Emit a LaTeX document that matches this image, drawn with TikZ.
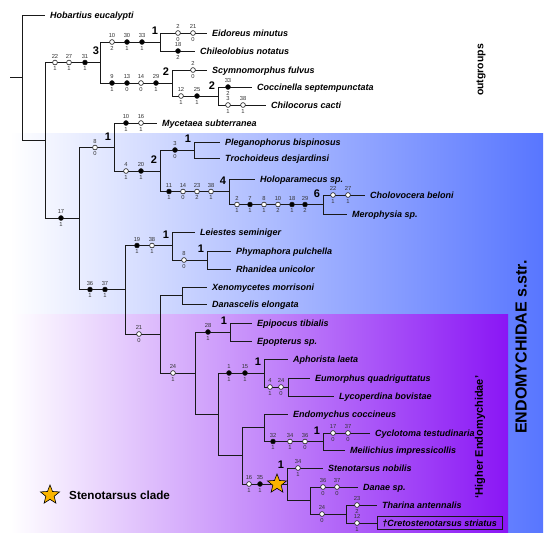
\documentclass[tikz,border=0pt]{standalone}
\usepackage{fontspec}
\setmainfont{Liberation Sans}
\usetikzlibrary{shapes.geometric}
\definecolor{bluR}{RGB}{88,118,255}
\definecolor{purR}{RGB}{138,22,245}
\definecolor{lineC}{RGB}{25,25,25}
\definecolor{starC}{RGB}{250,180,0}
\newcommand\mych[6]{%
  \node[#6] (#1) at (#2,#3) {};
  \node[chl] (#1t) at (#2,#3-6.3) {#4};
  \node[chl] (#1b) at (#2,#3+6.3) {#5};}
\tikzset{
  br/.style={draw=lineC,line width=0.9pt},
  op/.style={circle,draw=lineC,fill=white,line width=0.6pt,minimum size=4.8pt,inner sep=0pt},
  cl/.style={op,fill=black},
  chl/.style={font=\fontsize{5.8}{6}\selectfont,inner sep=0pt,text=black!80},
  leaf/.style={anchor=west,inner xsep=5pt,inner ysep=0pt,text height=6.5pt,text depth=0pt,font=\fontsize{9}{10}\selectfont\bfseries\itshape},
  clab/.style={font=\fontsize{11}{11}\selectfont\bfseries,inner sep=0pt},
  starS/.style={star,star points=5,star point ratio=2.3,minimum size=20pt,inner sep=0pt,fill=starC,draw=black,line width=0.6pt},
  vlab/.style={rotate=90,inner sep=0pt,font=\bfseries}
}
\begin{document}
\begin{tikzpicture}[x=1pt,y=-1pt]
\useasboundingbox (0,0) rectangle (550,541);
\fill[white] (0,0) rectangle (550,541);
% backgrounds
\shade[left color=white,right color=bluR] (10,133) rectangle (543,532);
\shade[left color=white,right color=purR] (10,314) rectangle (508,532);
% internal coordinates
\coordinate (root) at (10,77);
\coordinate (R) at (22,77);
\coordinate (A) at (45,140);
\coordinate (O) at (100,62.5);
\coordinate (O1) at (160,42);
\coordinate (O2) at (172,83);
\coordinate (O3) at (218,96);
\coordinate (B) at (79,218);
\coordinate (C) at (114,147.5);
\coordinate (D) at (160,171);
\coordinate (E) at (194,150);
\coordinate (F) at (229,191.5);
\coordinate (G) at (323,204.5);
\coordinate (H) at (125,289.5);
\coordinate (I) at (172,245.5);
\coordinate (J) at (207,260);
\coordinate (K) at (160,334);
\coordinate (L) at (182,295.5);
\coordinate (M) at (195,373);
\coordinate (N) at (230,332);
\coordinate (P) at (218,414.5);
\coordinate (Q) at (264,373);
\coordinate (S) at (288,387);
\coordinate (T) at (242,455.5);
\coordinate (U) at (264,427.5);
\coordinate (V) at (323,441.5);
\coordinate (W) at (287,484);
\coordinate (X) at (310,500);
\coordinate (Y) at (346,514);
% leaves
\node[leaf] (hob) at (45,15) {Hobartius eucalypti};
\node[leaf] (eid) at (207,33) {Eidoreus minutus};
\node[leaf] (chil) at (195,51) {Chileolobius notatus};
\node[leaf] (scy) at (207,70) {Scymnomorphus fulvus};
\node[leaf] (coc) at (252,87) {Coccinella septempunctata};
\node[leaf] (chc) at (266,105) {Chilocorus cacti};
\node[leaf] (myc) at (157,123) {Mycetaea subterranea};
\node[leaf] (ple) at (220,142) {Pleganophorus bispinosus};
\node[leaf] (tro) at (220,158) {Trochoideus desjardinsi};
\node[leaf] (hol) at (255,179) {Holoparamecus sp.};
\node[leaf] (cho) at (365,195) {Cholovocera beloni};
\node[leaf] (mer) at (347,214) {Merophysia sp.};
\node[leaf] (lei) at (195,232) {Leiestes seminiger};
\node[leaf] (phy) at (231,251) {Phymaphora pulchella};
\node[leaf] (rha) at (231,269) {Rhanidea unicolor};
\node[leaf] (xen) at (207,287) {Xenomycetes morrisoni};
\node[leaf] (dan) at (207,304) {Danascelis elongata};
\node[leaf] (epi) at (252,323) {Epipocus tibialis};
\node[leaf] (epo) at (252,341) {Epopterus sp.};
\node[leaf] (aph) at (288,359) {Aphorista laeta};
\node[leaf] (eum) at (310,378) {Eumorphus quadriguttatus};
\node[leaf] (lyc) at (334,396) {Lycoperdina bovistae};
\node[leaf] (endc) at (288,414) {Endomychus coccineus};
\node[leaf] (cyc) at (370,433) {Cyclotoma testudinaria};
\node[leaf] (mei) at (345,450) {Meilichius impressicollis};
\node[leaf] (ste) at (323,468) {Stenotarsus nobilis};
\node[leaf] (dae) at (358,487) {Danae sp.};
\node[leaf] (tha) at (377,505) {Tharina antennalis};
\node[leaf,draw=lineC,line width=0.6pt,inner ysep=3.25pt] (cre) at (377,523) {†Cretostenotarsus striatus};
% branches
\draw[br] (root) -- (R);
\draw[br] (R) |- (hob.west);
\draw[br] (R) |- (A);
\draw[br] (A) |- (O);
\draw[br] (A) |- (B);
\draw[br] (O) |- (O1);
\draw[br] (O) |- (O2);
\draw[br] (O1) |- (eid.west);
\draw[br] (O1) |- (chil.west);
\draw[br] (O2) |- (scy.west);
\draw[br] (O2) |- (O3);
\draw[br] (O3) |- (coc.west);
\draw[br] (O3) |- (chc.west);
\draw[br] (B) |- (C);
\draw[br] (B) |- (H);
\draw[br] (C) |- (myc.west);
\draw[br] (C) |- (D);
\draw[br] (D) |- (E);
\draw[br] (D) |- (F);
\draw[br] (E) |- (ple.west);
\draw[br] (E) |- (tro.west);
\draw[br] (F) |- (hol.west);
\draw[br] (F) |- (G);
\draw[br] (G) |- (cho.west);
\draw[br] (G) |- (mer.west);
\draw[br] (H) |- (I);
\draw[br] (H) |- (K);
\draw[br] (I) |- (lei.west);
\draw[br] (I) |- (J);
\draw[br] (J) |- (phy.west);
\draw[br] (J) |- (rha.west);
\draw[br] (K) |- (L);
\draw[br] (K) |- (M);
\draw[br] (L) |- (xen.west);
\draw[br] (L) |- (dan.west);
\draw[br] (M) |- (N);
\draw[br] (M) |- (P);
\draw[br] (N) |- (epi.west);
\draw[br] (N) |- (epo.west);
\draw[br] (P) |- (Q);
\draw[br] (P) |- (T);
\draw[br] (Q) |- (aph.west);
\draw[br] (Q) |- (S);
\draw[br] (S) |- (eum.west);
\draw[br] (S) |- (lyc.west);
\draw[br] (T) |- (U);
\draw[br] (T) |- (W);
\draw[br] (U) |- (endc.west);
\draw[br] (U) |- (V);
\draw[br] (V) |- (cyc.west);
\draw[br] (V) |- (mei.west);
\draw[br] (W) |- (ste.west);
\draw[br] (W) |- (X);
\draw[br] (X) |- (dae.west);
\draw[br] (X) |- (Y);
\draw[br] (Y) |- (tha.west);
\draw[br] (Y) |- (cre.west);
% character states
\mych{a1}{55}{62.5}{22}{1}{op}
\mych{a2}{69}{62.5}{27}{1}{op}
\mych{a3}{85}{62.5}{31}{1}{cl}
\mych{b1}{112}{42}{10}{2}{op}
\mych{b2}{127}{42}{30}{1}{cl}
\mych{b3}{142}{42}{33}{1}{cl}
\mych{c1}{178}{33}{2}{0}{op}
\mych{c2}{193}{33}{21}{0}{op}
\mych{d1}{178}{51}{18}{2}{cl}
\mych{e1}{112}{83}{9}{1}{cl}
\mych{e2}{127}{83}{13}{0}{cl}
\mych{e3}{141}{83}{14}{0}{op}
\mych{e4}{156}{83}{29}{1}{cl}
\mych{f1}{193}{70}{2}{0}{op}
\mych{g1}{181}{96}{12}{1}{op}
\mych{g2}{197}{96}{25}{1}{cl}
\mych{h1}{228}{87}{33}{2}{cl}
\mych{i1}{228}{105}{3}{1}{op}
\mych{i2}{243}{105}{38}{1}{op}
\mych{j1}{126}{123}{10}{1}{cl}
\mych{j2}{141}{123}{16}{1}{op}
\mych{k1}{95}{147.5}{8}{0}{op}
\mych{l1}{126}{171}{4}{1}{op}
\mych{l2}{141}{171}{20}{1}{cl}
\mych{m1}{175}{150}{3}{0}{cl}
\mych{n1}{169}{191.5}{11}{1}{cl}
\mych{n2}{183}{191.5}{14}{0}{op}
\mych{n3}{197}{191.5}{23}{2}{op}
\mych{n4}{211}{191.5}{38}{1}{op}
\mych{o1}{237}{204.5}{2}{1}{op}
\mych{o2}{250}{204.5}{7}{1}{cl}
\mych{o3}{264}{204.5}{8}{1}{op}
\mych{o4}{278}{204.5}{10}{2}{op}
\mych{o5}{292}{204.5}{18}{1}{cl}
\mych{o6}{305}{204.5}{29}{2}{cl}
\mych{p1}{333}{195}{22}{1}{op}
\mych{p2}{348}{195}{27}{1}{op}
\mych{q1}{61}{218}{17}{1}{cl}
\mych{r1}{90}{289.5}{36}{1}{cl}
\mych{r2}{105}{289.5}{37}{1}{cl}
\mych{s1}{137}{245.5}{19}{1}{cl}
\mych{s2}{152}{245.5}{38}{1}{op}
\mych{t1}{184}{260}{8}{0}{op}
\mych{u1}{139}{334}{21}{0}{op}
\mych{v1}{173}{373}{24}{1}{op}
\mych{w1}{208}{332}{28}{1}{cl}
\mych{x1}{229}{373}{1}{1}{cl}
\mych{x2}{245}{373}{15}{1}{cl}
\mych{y1}{270}{387}{4}{1}{op}
\mych{y2}{281}{387}{24}{0}{op}
\mych{z1}{273}{441.5}{32}{1}{cl}
\mych{z2}{290}{441.5}{34}{1}{op}
\mych{z3}{305}{441.5}{36}{0}{op}
\mych{aa1}{333}{433}{17}{0}{op}
\mych{aa2}{348}{433}{37}{0}{op}
\mych{ab1}{249}{484}{16}{1}{op}
\mych{ab2}{260}{484}{35}{1}{cl}
\mych{ac1}{298}{468}{34}{1}{op}
\mych{ad1}{323}{487}{36}{0}{op}
\mych{ad2}{337}{487}{37}{0}{op}
\mych{ae1}{322}{514}{24}{0}{op}
\mych{af1}{357}{505}{23}{2}{op}
\mych{ag1}{357}{523}{12}{1}{op}
\node[starS] (star) at (277,484) {};
% clade support numbers
\node[clab] (sO) at (96,51) {3};
\node[clab] (sO1) at (155,31) {1};
\node[clab] (sO2) at (166,72) {2};
\node[clab] (sO3) at (212,85.5) {2};
\node[clab] (sC) at (108,136.5) {1};
\node[clab] (sD) at (154,160) {2};
\node[clab] (sE) at (188,139) {1};
\node[clab] (sF) at (223,180.5) {4};
\node[clab] (sG) at (317,193.5) {6};
\node[clab] (sI) at (166,234.5) {1};
\node[clab] (sJ) at (201,249) {1};
\node[clab] (sN) at (224,321) {1};
\node[clab] (sQ) at (258,362) {1};
\node[clab] (sV) at (317,430.5) {1};
\node[clab] (sW) at (281,465) {1};
% group labels
\node[vlab,font=\fontsize{10.5}{11}\selectfont\bfseries] (outg) at (481,70) {outgroups};
\node[vlab,font=\fontsize{16}{16}\selectfont\bfseries] (endo) at (521,347) {ENDOMYCHIDAE s.str.};
\node[vlab,font=\fontsize{11}{11}\selectfont\bfseries] (higher) at (480,437) {`Higher Endomychidae'};
% legend
\node[starS] (lstar) at (50,495) {};
\node[anchor=west,inner sep=0pt,font=\fontsize{11.7}{12}\selectfont\bfseries] (ltext) at (69,495.5) {Stenotarsus clade};
\end{tikzpicture}
\end{document}
